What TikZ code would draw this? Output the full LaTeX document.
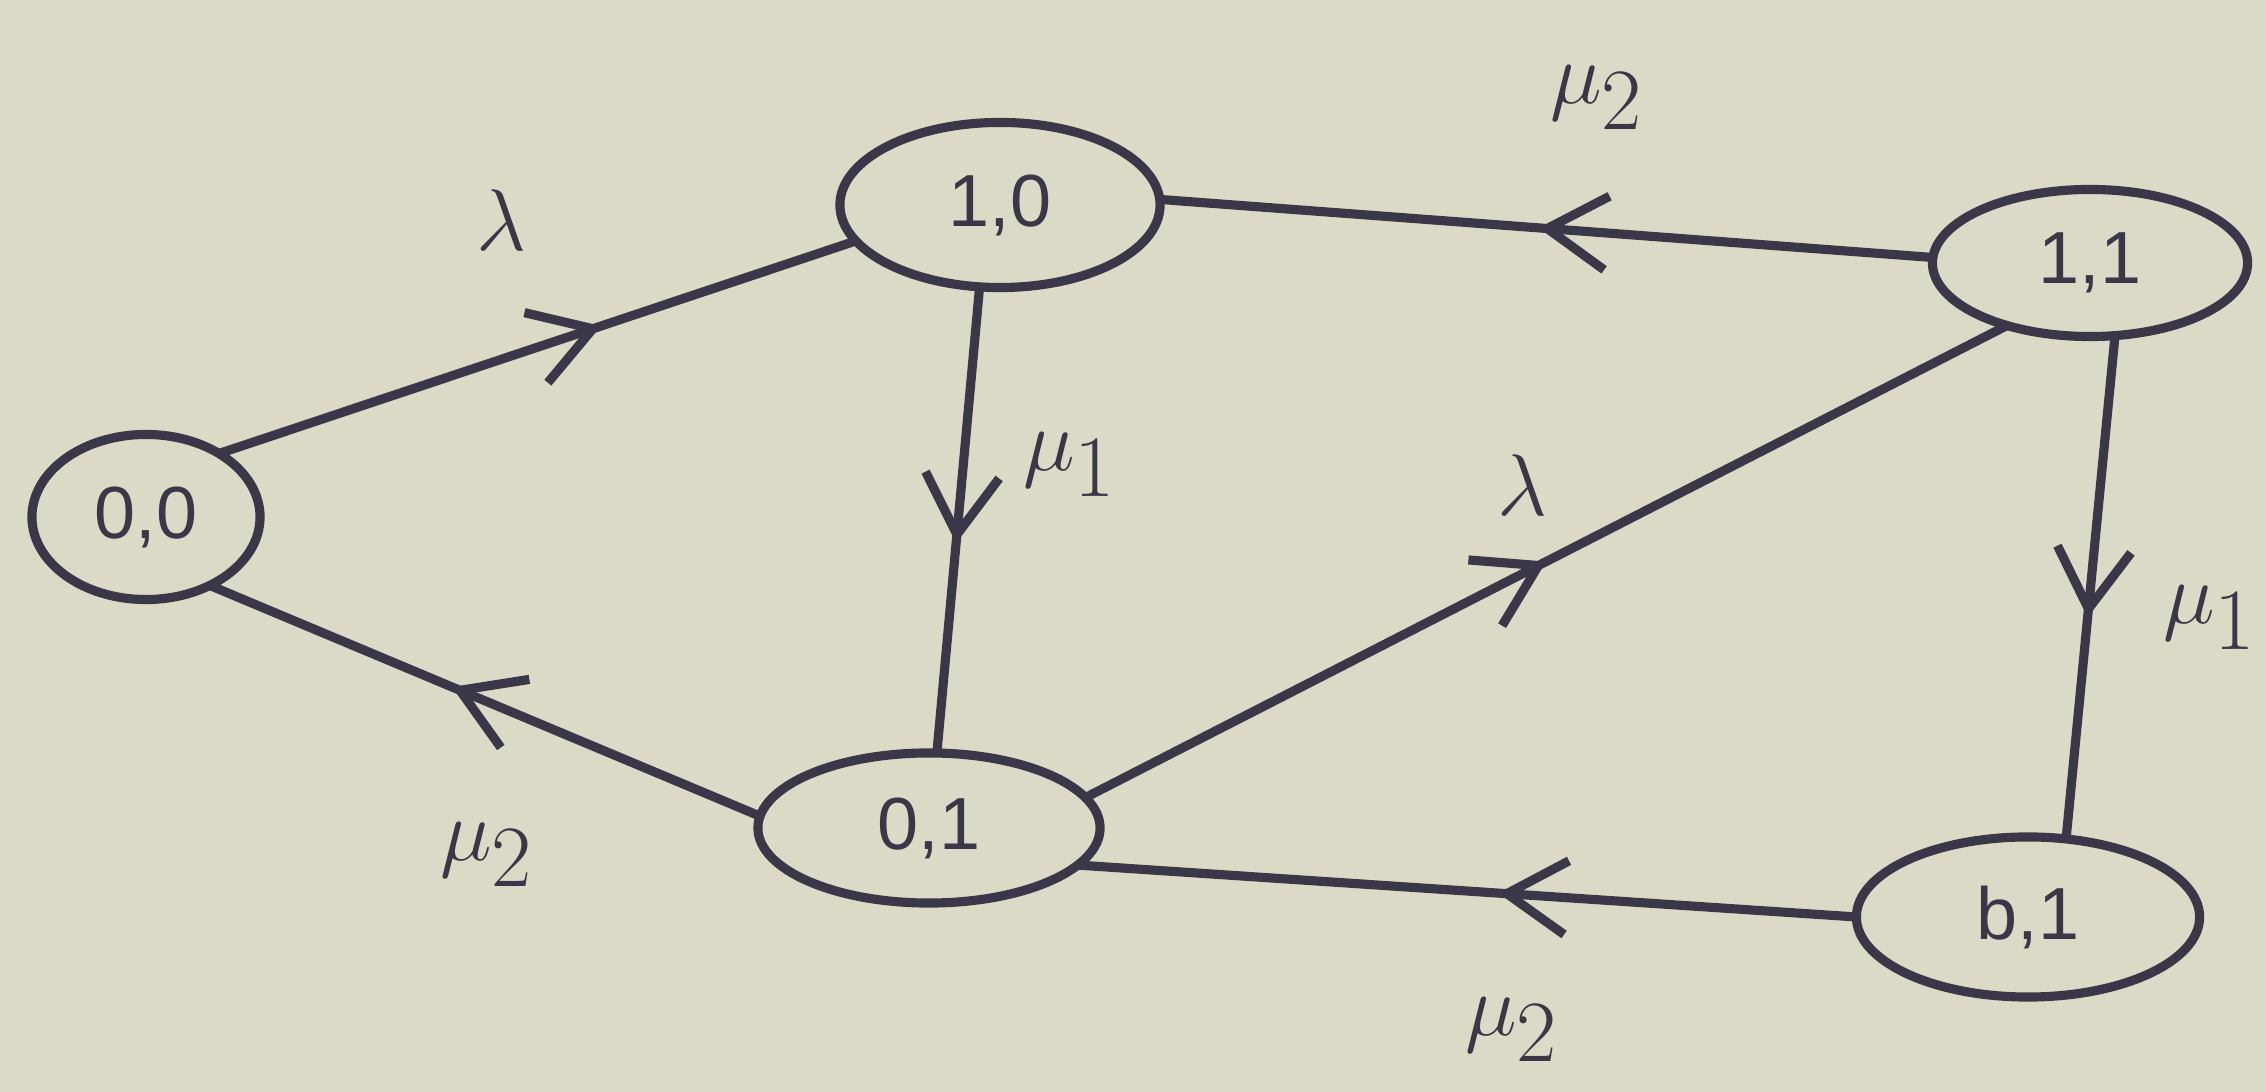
\documentclass[tikz,border=0pt]{standalone}
\usepackage{fontspec}
\setmainfont{Liberation Sans}
\usetikzlibrary{shapes.geometric,arrows.meta,decorations.markings}
\definecolor{paper}{RGB}{218,218,198}
\definecolor{ink}{RGB}{58,56,72}
\begin{document}
\begin{tikzpicture}[x=0.01cm,y=-0.01cm,
  state/.style={ellipse,draw=ink,line width=2.6pt,inner sep=0pt,outer sep=0pt,
    font=\fontsize{21}{26}\selectfont,text=ink},
  lbl/.style={font=\fontsize{40}{48}\selectfont,text=ink},
  flow/.style={draw=ink,line width=2.6pt},
  midarrow/.style={postaction={decorate},decoration={markings,
    mark=at position #1 with {\arrow[ink]{Straight Barb[length=17pt,width=21pt,line width=2.6pt]}}}}
]
\fill[paper] (0,0) rectangle (2266,1092);
\useasboundingbox (0,0) rectangle (2266,1092);

\node[state,minimum width=2.28cm,minimum height=1.65cm] (n00) at (146,517) {0,0};
\node[state,minimum width=3.20cm,minimum height=1.65cm] (n10) at (1000,205) {1,0};
\node[state,minimum width=3.15cm,minimum height=1.47cm] (n11) at (2090,263) {1,1};
\node[state,minimum width=3.42cm,minimum height=1.50cm] (n01) at (929,828) {0,1};
\node[state,minimum width=3.43cm,minimum height=1.60cm] (nb1) at (2028,917) {b,1};

\draw[flow,midarrow=0.6]  (n00.41)  -- (n10.194);
\draw[flow,midarrow=0.51] (n11.178) -- (n10.2.5);
\draw[flow,midarrow=0.55] (n10.256.6) -- (n01.84);
\draw[flow,midarrow=0.5]  (n01.11)  -- (n11.217.5);
\draw[flow,midarrow=0.56] (n11.289) -- (nb1.64);
\draw[flow,midarrow=0.56] (n01.176) -- (n00.313);
\draw[flow,midarrow=0.46] (nb1.180) -- (n01.346.5);

\node[lbl] (l1) at (501,220) {$\lambda$};
\node[lbl] (l2) at (1597,98) {$\mu_2$};
\node[lbl] (l3) at (1070,465) {$\mu_1$};
\node[lbl] (l4) at (1522,485) {$\lambda$};
\node[lbl] (l5) at (2210,618) {$\mu_1$};
\node[lbl] (l6) at (487,855) {$\mu_2$};
\node[lbl] (l7) at (1512,1030) {$\mu_2$};
\end{tikzpicture}
\end{document}
